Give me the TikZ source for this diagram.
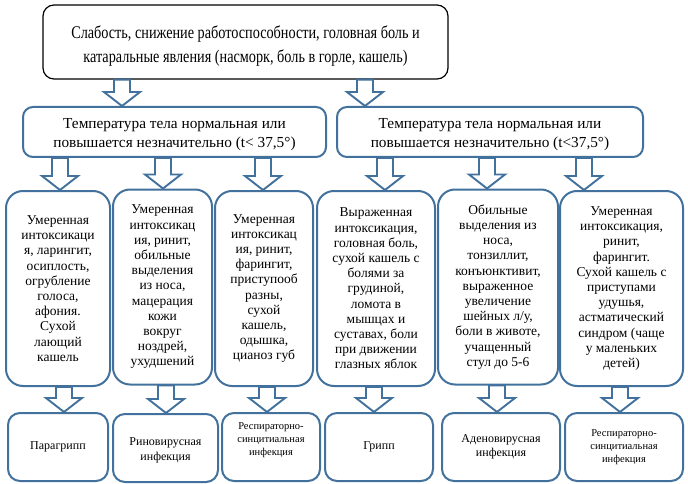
\documentclass[tikz,border=0pt]{standalone}
\usepackage{fontspec}
\setmainfont{Liberation Serif}
\newfontfamily\narrowfont[FakeStretch=0.8]{Liberation Serif}
\usepackage{tikz}
\usetikzlibrary{calc}
\usepackage{xcolor}
\definecolor{bord}{HTML}{41719C}

% hollow block arrow at x=#1, from node #2 down to node #3
\newcommand{\blkarrow}[3]{%
\draw[blk] let \p0=(#1,0), \p1=(#2.south), \p2=(#3.north) in
  (\x0-8pt,\y1) -- (\x0+8pt,\y1) -- (\x0+8pt,\y2+14pt) -- (\x0+18pt,\y2+14pt)
  -- (\x0,\y2) -- (\x0-18pt,\y2+14pt) -- (\x0-8pt,\y2+14pt) -- cycle;}

\begin{document}
\begin{tikzpicture}[x=1pt,y=-1pt,
  blk/.style={draw=bord, line width=1.9pt, fill=white, line join=miter},
  head/.style={draw=black, line width=1.2pt, rounded corners=11pt, align=center,
    minimum width=405pt, minimum height=74pt, inner sep=0pt,
    font=\narrowfont\fontsize{17.8}{24}\selectfont},
  temp/.style={draw=bord, line width=2pt, rounded corners=10pt, align=center,
    minimum height=50pt, inner sep=0pt, font=\fontsize{15.3}{18.5}\selectfont},
  sympt/.style={draw=bord, line width=2pt, rounded corners=17pt, align=center,
    minimum height=195pt, inner sep=0pt, font=\fontsize{13.5}{15.2}\selectfont},
  dis/.style={draw=bord, line width=2pt, rounded corners=12pt, align=center,
    minimum height=68pt, inner sep=0pt, font=\fontsize{12}{14.5}\selectfont},
  dissmall/.style={dis, font=\fontsize{10.5}{13}\selectfont}]
\useasboundingbox (0,0) rectangle (688,484);

\node[head] (top) at (245.5,42) {\rule{0pt}{21pt}Слабость, снижение работоспособности, головная боль и\\
  катаральные явления (насморк, боль в горле, кашель)};

\node[temp, minimum width=303pt] (tl) at (174.5,132) {\rule{0pt}{15pt}Температура тела нормальная или\\
  повышается незначительно (t< 37,5°)};
\node[temp, minimum width=306pt] (tr) at (490,132) {\rule{0pt}{15pt}Температура тела нормальная или\\
  повышается незначительно (t<37,5°)};

% symptoms
\node[sympt, minimum width=104pt] (s1) at (58,288.5) {Умеренная\\ интоксикаци\\ я, ларингит,\\
  осиплость,\\ огрубление\\ голоса,\\ афония.\\ Сухой\\ лающий\\ кашель};
\node[sympt, minimum width=99pt] (s2) at (162.5,287) {Умеренная\\ интоксикац\\ ия, ринит,\\
  обильные\\ выделения\\ из носа,\\ мацерация\\ кожи\\ вокруг\\ ноздрей,\\ ухудшений};
\node[sympt, minimum width=98pt] (s3) at (264,288.5) {Умеренная\\ интоксикац\\ ия, ринит,\\
  фарингит,\\ приступооб\\ разны,\\ сухой\\ кашель,\\ одышка,\\ цианоз губ};
\node[sympt, minimum width=118pt] (s4) at (376,288.5) {Выраженная\\ интоксикация,\\
  головная боль,\\ сухой кашель с\\ болями за\\ грудиной,\\ ломота в\\ мышцах и\\
  суставах, боли\\ при движении\\ глазных яблок};
\node[sympt, minimum width=120pt] (s5) at (498,287) {Обильные\\ выделения из\\ носа,\\
  тонзиллит,\\ конъюнктивит,\\ выраженное\\ увеличение\\ шейных л/у,\\ боли в животе,\\
  учащенный\\ стул до 5-6};
\node[sympt, minimum width=123pt] (s6) at (621.5,288.5) {Умеренная\\ интоксикация,\\
  ринит,\\ фарингит.\\ Сухой кашель с\\ приступами\\ удушья,\\ астматический\\
  синдром (чаще\\ у маленьких\\ детей)};

% diseases
\node[dis, minimum width=100pt] (d1) at (58,447) {Парагрипп};
\node[dis, minimum width=105pt] (d2) at (165.5,448) {\rule{0pt}{13pt}Риновирусная\\ инфекция};
\node[dissmall, minimum width=98pt] (d3) at (271,447) {Респираторно-\\ синцитиальная\\ инфекция\\[3pt]};
\node[dis, minimum width=108pt] (d4) at (379,447) {Грипп};
\node[dis, minimum width=118pt] (d5) at (501,447) {Аденовирусная\\ инфекция};
\node[dissmall, minimum width=118pt] (d6) at (624,447) {Респираторно-\\ синцитиальная\\ инфекция};

\blkarrow{122}{top}{tl}
\blkarrow{365}{top}{tr}
\blkarrow{60}{tl}{s1}
\blkarrow{163}{tl}{s2}
\blkarrow{263}{tl}{s3}
\blkarrow{385}{tr}{s4}
\blkarrow{487}{tr}{s5}
\blkarrow{584}{tr}{s6}
\blkarrow{64}{s1}{d1}
\blkarrow{166}{s2}{d2}
\blkarrow{267}{s3}{d3}
\blkarrow{374}{s4}{d4}
\blkarrow{497}{s5}{d5}
\blkarrow{620}{s6}{d6}
\end{tikzpicture}
\end{document}
